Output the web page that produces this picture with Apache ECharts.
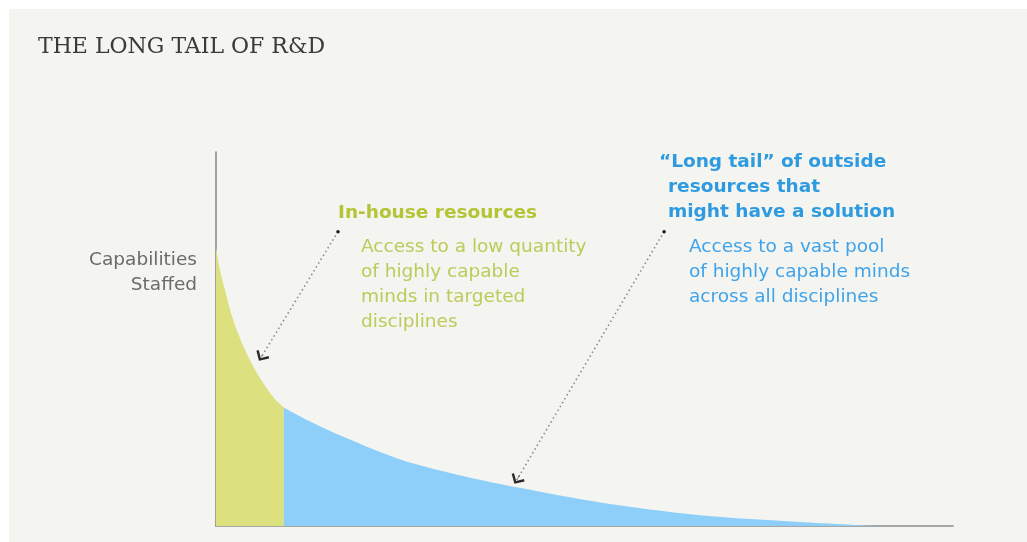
<!DOCTYPE html>
<html>
<head>
<meta charset="utf-8">
<script src="https://cdn.jsdelivr.net/npm/echarts@6/dist/echarts.min.js"></script>
<style>
html,body{margin:0;padding:0;background:#ffffff;}
#chart{width:1027px;height:542px;}
</style>
</head>
<body>
<div id="chart"></div>
<script>
// Data (arbitrary units: x 0..100 along axis, y 0..100 of axis height)
const inHouseX = [0, 0.54, 1.22, 1.9, 2.81, 3.93, 5.06, 6.42, 8.0, 9.2];
const inHouseY = [74.7, 68.4, 63.1, 57.8, 52.4, 47.1, 42.6, 38.2, 33.9, 31.7];
const outsideX = [9.2, 12.5, 17.2, 25.0, 34.1, 41.2, 52.1, 65.7, 79.2, 90.1];
const outsideY = [31.7, 28.2, 23.9, 17.8, 13.1, 10.2, 6.3, 2.9, 1.1, 0];
// Annotation arrows (data coords): [startX, startY, endX, endY]
const arrowInHouse = [16.55, 78.7, 6.15, 45.2];
const arrowOutside = [60.8, 78.7, 40.8, 12.3];

const title = 'THE LONG TAIL OF R&D';
const yLabel = ['Capabilities', 'Staffed'];
const inHouseHead = ['In-house resources'];
const inHouseBody = ['Access to a low quantity', 'of highly capable', 'minds in targeted', 'disciplines'];
const outsideHead = ['\u201cLong tail\u201d of outside', 'resources that', 'might have a solution'];
const outsideBody = ['Access to a vast pool', 'of highly capable minds', 'across all disciplines'];

const GREEN = '#dce07f';
const BLUE = '#8ecffa';
const chevron = 'path://M6,0 L12,6 L10.6,7.4 L6,2.8 L1.4,7.4 L0,6 Z';

function pairs(xs, ys){ return xs.map((x,i)=>[x, ys[i]]); }
function arrowLine(a){
  const ex = a[2] - 0.02 * (a[2] - a[0]);
  const ey = a[3] - 0.02 * (a[3] - a[1]);
  return {
    silent: true,
    label: {show: false},
    emphasis: {disabled: true},
    data: [
      [{coord: [a[0], a[1]], symbol: 'none', lineStyle: {type: [1.5, 3], color: '#8a8a8a', width: 1.6}},
       {coord: [a[2], a[3]], symbol: 'none'}],
      [{coord: [ex, ey], symbol: 'none', lineStyle: {type: 'solid', color: '#2a2a2a', width: 0.5}},
       {coord: [a[2], a[3]], symbol: chevron, symbolSize: [15, 9]}]
    ]
  };
}
function arrowDot(a){
  return {silent: true, symbol: 'circle', symbolSize: 3.5, itemStyle: {color: '#1a1a1a'}, label: {show: false},
          data: [{coord: [a[0], a[1]]}]};
}
function textBlock(lines, left, top, color, weight, lh, size){
  return {
    type: 'text', left: left, top: top, z: 10,
    style: {text: lines.join('\n'), fill: color, fontFamily: 'DejaVu Sans', fontSize: size,
            fontWeight: weight, lineHeight: lh}
  };
}

const chart = echarts.init(document.getElementById('chart'), null, {renderer: 'canvas'});
chart.setOption({
  backgroundColor: '#ffffff',
  animation: false,
  grid: {left: 216, top: 152, width: 737, height: 374},
  xAxis: {type: 'value', min: 0, max: 100, axisLine: {show: true, lineStyle: {color: '#8c8c8c', width: 1.6}},
          axisTick: {show: false}, axisLabel: {show: false}, splitLine: {show: false}},
  yAxis: {type: 'value', min: 0, max: 100, axisLine: {show: true, lineStyle: {color: '#8c8c8c', width: 1.6}},
          axisTick: {show: false}, axisLabel: {show: false}, splitLine: {show: false}},
  graphic: [
    {type: 'rect', left: 9, top: 9, z: -10, shape: {width: 1018, height: 533}, style: {fill: '#f4f4f0'}},
    {type: 'text', left: 38, top: 36, z: 10,
     style: {text: title, fill: '#3a3a3a', fontFamily: 'DejaVu Serif', fontSize: 22}},
    {type: 'text', x: 197, y: 248, z: 10,
     style: {text: yLabel.join('\n'), fill: '#6b6b6b', fontFamily: 'DejaVu Sans', fontSize: 18.5,
             lineHeight: 25, align: 'right', verticalAlign: 'top'}},
    textBlock(inHouseHead, 338, 201, '#b3c535', 'bold', 25, 18.5),
    textBlock(inHouseBody, 361, 235, '#bdcb5a', 'normal', 25, 18.5),
    textBlock(outsideHead.slice(0, 1), 659, 150, '#2e9ae0', 'bold', 25, 18.5),
    textBlock(outsideHead.slice(1), 668, 175, '#2e9ae0', 'bold', 25, 18.5),
    textBlock(outsideBody, 689, 235, '#3ea3ea', 'normal', 25, 18.5)
  ],
  series: [
    {type: 'line', name: 'In-house', data: pairs(inHouseX, inHouseY), smooth: 0.3, showSymbol: false,
     lineStyle: {width: 0}, areaStyle: {color: GREEN, opacity: 1}, z: 2, silent: true,
     markLine: arrowLine(arrowInHouse), markPoint: arrowDot(arrowInHouse)},
    {type: 'line', name: 'Outside', data: pairs(outsideX, outsideY), smooth: 0.3,
     showSymbol: false,
     lineStyle: {width: 0}, areaStyle: {color: BLUE, opacity: 1}, z: 2, silent: true,
     markLine: arrowLine(arrowOutside), markPoint: arrowDot(arrowOutside)}
  ]
});
</script>
</body>
</html>
